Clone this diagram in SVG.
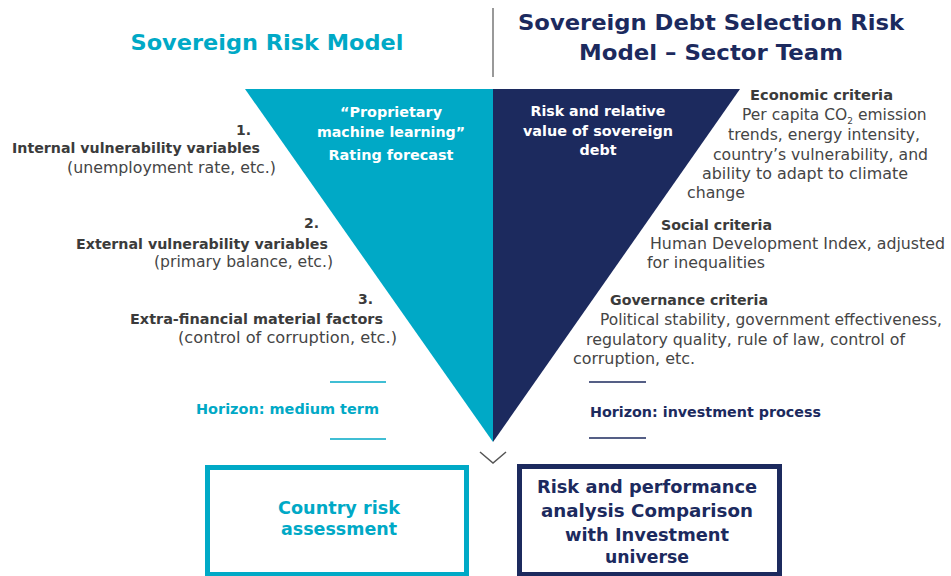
<svg xmlns="http://www.w3.org/2000/svg" width="951" height="576" viewBox="0 0 951 576">
<style>
text{font-family:"DejaVu Sans","Liberation Sans",sans-serif}
.b{font-weight:bold;font-size:14px;fill:#3b3b3b}
.r{font-size:15.5px;fill:#454545}
.w{font-weight:bold;font-size:14px;fill:#ffffff;text-anchor:middle}
.cy{fill:#00a9c6}
.nv{fill:#1c2a5e}
.title{font-weight:bold;font-size:22px;text-anchor:middle}
.box{font-weight:bold;font-size:17.5px;text-anchor:middle}
.e{text-anchor:end}
</style>
<rect width="951" height="576" fill="#ffffff"/>
<g id="titles">
<text class="title cy" x="267" y="50" textLength="273" lengthAdjust="spacingAndGlyphs">Sovereign Risk Model</text>
<line x1="493" y1="8" x2="493" y2="77" stroke="#555" stroke-width="1.2"/>
<text class="title nv" x="711" y="30" textLength="386" lengthAdjust="spacingAndGlyphs">Sovereign Debt Selection Risk</text>
<text class="title nv" x="711" y="60" textLength="264" lengthAdjust="spacingAndGlyphs">Model – Sector Team</text>
</g>
<g id="left-triangle">
<polygon points="245,89 493,89 493,442" fill="#00a9c6"/>
<text class="w" x="391" y="117" textLength="102" lengthAdjust="spacingAndGlyphs">“Proprietary</text>
<text class="w" x="391" y="137" textLength="148" lengthAdjust="spacingAndGlyphs">machine learning”</text>
<text class="w" x="391" y="160" textLength="125" lengthAdjust="spacingAndGlyphs">Rating forecast</text>
</g>
<g id="right-triangle">
<polygon points="493,89 740,89 493,442" fill="#1c2a5e"/>
<text class="w" x="598" y="116" textLength="135" lengthAdjust="spacingAndGlyphs">Risk and relative</text>
<text class="w" x="598" y="136" textLength="150" lengthAdjust="spacingAndGlyphs">value of sovereign</text>
<text class="w" x="598" y="155" textLength="37" lengthAdjust="spacingAndGlyphs">debt</text>
</g>
<g id="left-factors">
<text class="b e" x="251" y="135">1.</text>
<text class="b e" x="260" y="153" textLength="248" lengthAdjust="spacingAndGlyphs">Internal vulnerability variables</text>
<text class="r e" x="276" y="173" textLength="209" lengthAdjust="spacingAndGlyphs">(unemployment rate, etc.)</text>
<text class="b e" x="319" y="228">2.</text>
<text class="b e" x="328" y="249" textLength="252" lengthAdjust="spacingAndGlyphs">External vulnerability variables</text>
<text class="r e" x="333" y="267" textLength="179" lengthAdjust="spacingAndGlyphs">(primary balance, etc.)</text>
<text class="b e" x="373" y="304">3.</text>
<text class="b e" x="383" y="324" textLength="253" lengthAdjust="spacingAndGlyphs">Extra-financial material factors</text>
<text class="r e" x="397" y="343" textLength="219" lengthAdjust="spacingAndGlyphs">(control of corruption, etc.)</text>
</g>
<g id="left-horizon">
<line x1="330" y1="382" x2="386" y2="382" stroke="#00a9c6" stroke-width="1.5"/>
<text class="b cy e" x="379" y="414" textLength="183" lengthAdjust="spacingAndGlyphs">Horizon: medium term</text>
<line x1="330" y1="439" x2="386" y2="439" stroke="#00a9c6" stroke-width="1.5"/>
</g>
<g id="right-criteria">
<text class="b" x="750" y="100" textLength="143" lengthAdjust="spacingAndGlyphs">Economic criteria</text>
<text class="r" x="742" y="120">Per capita CO<tspan font-size="9" dy="4">2</tspan><tspan dy="-4"> emission</tspan></text>
<text class="r" x="728" y="140" textLength="192" lengthAdjust="spacingAndGlyphs">trends, energy intensity,</text>
<text class="r" x="713" y="160" textLength="215" lengthAdjust="spacingAndGlyphs">country’s vulnerability, and</text>
<text class="r" x="702" y="179" textLength="206" lengthAdjust="spacingAndGlyphs">ability to adapt to climate</text>
<text class="r" x="687" y="198" textLength="58" lengthAdjust="spacingAndGlyphs">change</text>
<text class="b" x="661" y="230" textLength="111" lengthAdjust="spacingAndGlyphs">Social criteria</text>
<text class="r" x="650" y="249" textLength="295" lengthAdjust="spacingAndGlyphs">Human Development Index, adjusted</text>
<text class="r" x="647" y="268" textLength="118" lengthAdjust="spacingAndGlyphs">for inequalities</text>
<text class="b" x="610" y="305" textLength="158" lengthAdjust="spacingAndGlyphs">Governance criteria</text>
<text class="r" x="600" y="325" textLength="342" lengthAdjust="spacingAndGlyphs">Political stability, government effectiveness,</text>
<text class="r" x="586" y="345" textLength="319" lengthAdjust="spacingAndGlyphs">regulatory quality, rule of law, control of</text>
<text class="r" x="573" y="364" textLength="122" lengthAdjust="spacingAndGlyphs">corruption, etc.</text>
</g>
<g id="right-horizon">
<line x1="589" y1="382" x2="646" y2="382" stroke="#1c2a5e" stroke-width="1.5"/>
<text class="b nv" x="590" y="417" textLength="231" lengthAdjust="spacingAndGlyphs">Horizon: investment process</text>
<line x1="589" y1="438" x2="646" y2="438" stroke="#1c2a5e" stroke-width="1.5"/>
</g>
<g id="connectors">
<polyline points="480,452 493,463 506,452" fill="none" stroke="#555" stroke-width="1.5"/>
</g>
<g id="country-risk-box">
<rect x="207.5" y="467.5" width="259" height="107" fill="#fff" stroke="#00a9c6" stroke-width="5"/>
<text class="box cy" x="339" y="514" textLength="122" lengthAdjust="spacingAndGlyphs">Country risk</text>
<text class="box cy" x="339" y="535" textLength="116" lengthAdjust="spacingAndGlyphs">assessment</text>
</g>
<g id="performance-box">
<rect x="519.5" y="466.5" width="260" height="108" fill="#fff" stroke="#1c2a5e" stroke-width="5"/>
<text class="box nv" x="647" y="493" textLength="220" lengthAdjust="spacingAndGlyphs">Risk and performance</text>
<text class="box nv" x="647" y="517" textLength="212" lengthAdjust="spacingAndGlyphs">analysis Comparison</text>
<text class="box nv" x="647" y="541" textLength="164" lengthAdjust="spacingAndGlyphs">with Investment</text>
<text class="box nv" x="647" y="563" textLength="84" lengthAdjust="spacingAndGlyphs">universe</text>
</g>
</svg>
